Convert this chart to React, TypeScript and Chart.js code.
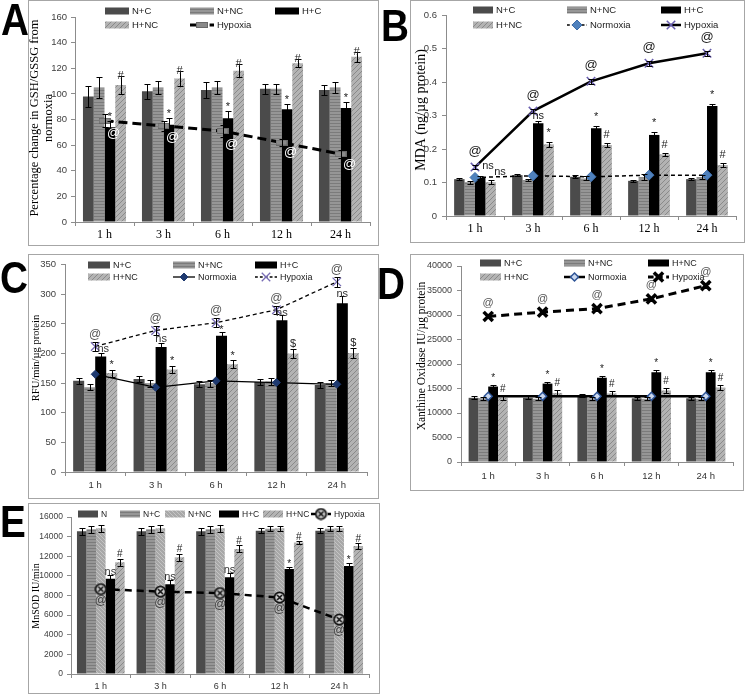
import React, { useEffect, useRef } from "react";
import { Chart, registerables } from "chart.js";

Chart.register(...registerables);

// ---------------- shared ----------------
const HOURS = ["1 h", "3 h", "6 h", "12 h", "24 h"];

// ---------------- A : GSH/GSSG (% of normoxia) ----------------
const A_N_C = [98, 102, 103, 104, 103];
const A_N_C_ERR = [8, 6, 6, 4, 4];
const A_N_NC = [105, 105, 105, 104, 105];
const A_N_NC_ERR = [8, 5, 5, 4, 4];
const A_H_C = [74, 76, 81, 88, 89];
const A_H_C_ERR = [5, 5, 6, 4, 5];
const A_H_NC = [107, 112, 118, 124, 129];
const A_H_NC_ERR = [7, 6, 5, 3, 4];
const A_HYPOXIA = [79, 75, 71, 62, 53];
const A_HYPOXIA_ERR = [5, 4, 5, 3, 3];
const A_Y_MAX = 160;
const A_Y_STEP = 20;

// ---------------- B : MDA ----------------
const B_N_C = [0.11, 0.122, 0.117, 0.105, 0.11];
const B_N_C_ERR = [0.004, 0.003, 0.005, 0.003, 0.004];
const B_N_NC = [0.101, 0.107, 0.112, 0.116, 0.116];
const B_N_NC_ERR = [0.004, 0.004, 0.006, 0.01, 0.005];
const B_H_C = [0.115, 0.277, 0.262, 0.242, 0.328];
const B_H_C_ERR = [0.005, 0.007, 0.007, 0.008, 0.007];
const B_H_NC = [0.101, 0.214, 0.212, 0.184, 0.152];
const B_H_NC_ERR = [0.005, 0.007, 0.006, 0.004, 0.006];
const B_NORMOXIA = [0.115, 0.12, 0.117, 0.122, 0.122];
const B_HYPOXIA = [0.146, 0.313, 0.402, 0.456, 0.486];
const B_HYPOXIA_ERR = [0.005, 0.006, 0.007, 0.007, 0.007];
const B_Y_MAX = 0.6;
const B_Y_STEP = 0.1;

// ---------------- C : RFU ----------------
const C_N_C = [154, 157, 148, 152, 147];
const C_N_C_ERR = [5, 5, 5, 5, 5];
const C_N_NC = [143, 150, 150, 153, 150];
const C_N_NC_ERR = [5, 6, 6, 6, 5];
const C_H_C = [195, 211, 230, 256, 285];
const C_H_C_ERR = [6, 7, 7, 9, 12];
const C_H_NC = [167, 173, 182, 200, 201];
const C_H_NC_ERR = [6, 6, 7, 8, 9];
const C_NORMOXIA = [165, 143, 154, 151, 148];
const C_HYPOXIA = [212, 239, 252, 274, 321];
const C_HYPOXIA_ERR = [8, 7, 8, 7, 9];
const C_Y_MAX = 350;
const C_Y_STEP = 50;

// ---------------- D : Xanthine oxidase ----------------
const D_N_C = [13100, 13100, 13500, 13000, 13000];
const D_N_C_ERR = [300, 300, 300, 300, 300];
const D_N_NC = [13000, 12900, 13000, 12900, 12900];
const D_N_NC_ERR = [300, 300, 300, 300, 300];
const D_H_C = [15400, 16000, 17200, 18300, 18300];
const D_H_C_ERR = [400, 400, 400, 500, 500];
const D_H_NC = [13100, 14100, 14000, 14600, 15200];
const D_H_NC_ERR = [400, 500, 400, 600, 600];
const D_NORMOXIA = [13400, 13400, 13400, 13400, 13400];
const D_HYPOXIA = [29700, 30600, 31300, 33300, 36000];
const D_HYPOXIA_ERR = [400, 400, 400, 400, 400];
const D_Y_MAX = 40000;
const D_Y_STEP = 5000;

// ---------------- E : MnSOD ----------------
const E_N = [14550, 14550, 14550, 14600, 14600];
const E_N_ERR = [350, 350, 350, 250, 250];
const E_N_C = [14750, 14750, 14750, 14800, 14800];
const E_N_C_ERR = [350, 350, 350, 250, 250];
const E_N_NC = [14850, 14850, 14850, 14850, 14850];
const E_N_NC_ERR = [350, 350, 350, 250, 250];
const E_H_C = [9700, 9150, 9850, 10700, 11000];
const E_H_C_ERR = [350, 400, 400, 250, 300];
const E_H_NC = [11400, 11900, 12750, 13400, 13050];
const E_H_NC_ERR = [350, 350, 350, 150, 300];
const E_HYPOXIA = [8650, 8400, 8250, 7800, 5550];
const E_Y_MAX = 16000;
const E_Y_STEP = 2000;

// ---------------- styling helpers ----------------
const SANS = '"Liberation Sans", Arial, sans-serif';
const SERIF = '"Liberation Serif", "Times New Roman", serif';
const AXIS = "#8c8c8c";

type FillKey = "dark" | "stripe" | "black" | "hatch" | "light";
type MarkerKey = "rectRot" | "crossRot" | "grayBar" | "circleX";

interface LineLook {
  color: string;
  width: number;
  dash: number[];
  marker: MarkerKey;
  radius: number;
  mFill: string;
  mStroke: string;
  mWidth: number;
}
interface Series {
  label: string;
  data: number[];
  err?: number[];
  fill?: FillKey;
  look?: LineLook;
}
interface Note {
  t: string;
  s: number;
  i: number[];
  at: "top" | "bottom" | "mid";
  dx?: number;
  gap?: number;
  size?: number;
  color?: string;
}
interface LegendPos {
  s: number;
  x: number;
  y: number;
}
interface PanelCfg {
  letter: string;
  letterPos: [number, number];
  box: [number, number, number, number];
  area: [number, number, number, number];
  yMax: number;
  yStep: number;
  yFmt: (v: number) => string;
  yTickSize: number;
  yPad: number;
  catPct: number;
  xFamily: string;
  xSize: number;
  xColor: string;
  xPad: number;
  title: { lines: string[]; xs: number[]; y: number; size: number };
  series: Series[];
  notes: Note[];
  legend: LegendPos[];
  swW: number;
  legendSize: number;
}

const intFmt = (v: number) => String(Math.round(v));
const oneDec = (v: number) => (v === 0 ? "0" : v.toFixed(1));
const ALL = [0, 1, 2, 3, 4];

function makeFill(ctx: CanvasRenderingContext2D, key: FillKey): string | CanvasPattern {
  if (key === "dark") return "#4b4b4b";
  if (key === "black") return "#000000";
  const t = document.createElement("canvas");
  if (key === "stripe") {
    t.width = 4;
    t.height = 3;
    const g = t.getContext("2d")!;
    g.fillStyle = "#969696";
    g.fillRect(0, 0, 4, 3);
    g.fillStyle = "#7b7b7b";
    g.fillRect(0, 0, 4, 1);
  } else if (key === "hatch") {
    t.width = 5;
    t.height = 5;
    const g = t.getContext("2d")!;
    g.fillStyle = "#b3b3b3";
    g.fillRect(0, 0, 5, 5);
    g.fillStyle = "#8a8a8a";
    for (let i = 0; i < 5; i++) g.fillRect(i, 4 - i, 1, 1);
  } else {
    t.width = 4;
    t.height = 4;
    const g = t.getContext("2d")!;
    g.fillStyle = "#a8a8a8";
    g.fillRect(0, 0, 4, 4);
    g.fillStyle = "#c4c4c4";
    for (let i = 0; i < 4; i++) g.fillRect(i, i, 1, 1);
  }
  return ctx.createPattern(t, "repeat")!;
}

function makeMarkerImage(key: MarkerKey): HTMLCanvasElement | null {
  if (key === "grayBar") {
    const c = document.createElement("canvas");
    c.width = 12;
    c.height = 6;
    const g = c.getContext("2d")!;
    g.fillStyle = "#8a8a8a";
    g.fillRect(0, 0, 12, 6);
    g.strokeStyle = "#6a6a6a";
    g.lineWidth = 1;
    g.strokeRect(0.5, 0.5, 11, 5);
    return c;
  }
  if (key === "circleX") {
    const c = document.createElement("canvas");
    c.width = 13;
    c.height = 13;
    const g = c.getContext("2d")!;
    g.beginPath();
    g.arc(6.5, 6.5, 5.2, 0, Math.PI * 2);
    g.fillStyle = "#cfcfcf";
    g.fill();
    g.lineWidth = 1.8;
    g.strokeStyle = "#111";
    g.stroke();
    g.beginPath();
    g.moveTo(4, 4);
    g.lineTo(9, 9);
    g.moveTo(9, 4);
    g.lineTo(4, 9);
    g.lineWidth = 1.6;
    g.stroke();
    return c;
  }
  return null;
}

function drawMarker(ctx: CanvasRenderingContext2D, look: LineLook, img: HTMLCanvasElement | null, x: number, y: number) {
  ctx.save();
  ctx.setLineDash([]);
  if (img) {
    ctx.drawImage(img, x - img.width / 2, y - img.height / 2);
  } else if (look.marker === "rectRot") {
    const r = look.radius;
    ctx.beginPath();
    ctx.moveTo(x, y - r);
    ctx.lineTo(x + r, y);
    ctx.lineTo(x, y + r);
    ctx.lineTo(x - r, y);
    ctx.closePath();
    ctx.fillStyle = look.mFill;
    ctx.fill();
    ctx.lineWidth = look.mWidth;
    ctx.strokeStyle = look.mStroke;
    ctx.stroke();
  } else if (look.marker === "crossRot") {
    const o = look.radius * Math.SQRT1_2;
    ctx.beginPath();
    ctx.moveTo(x - o, y - o);
    ctx.lineTo(x + o, y + o);
    ctx.moveTo(x + o, y - o);
    ctx.lineTo(x - o, y + o);
    ctx.lineWidth = look.mWidth;
    ctx.strokeStyle = look.mStroke;
    ctx.stroke();
  }
  ctx.restore();
}

// ---------------- panel definitions ----------------
const LOOK_A_HYP: LineLook = { color: "#000", width: 3, dash: [9, 5], marker: "grayBar", radius: 6, mFill: "#8a8a8a", mStroke: "#6a6a6a", mWidth: 1 };
const LOOK_B_NOR: LineLook = { color: "#000", width: 1.5, dash: [4, 3], marker: "rectRot", radius: 5, mFill: "#4f81bd", mStroke: "#3d6ca8", mWidth: 1 };
const LOOK_B_HYP: LineLook = { color: "#000", width: 2.5, dash: [], marker: "crossRot", radius: 6, mFill: "#6a5fb0", mStroke: "#6a5fb0", mWidth: 1.5 };
const LOOK_C_NOR: LineLook = { color: "#000", width: 1.3, dash: [], marker: "rectRot", radius: 4, mFill: "#1f3a70", mStroke: "#1f3a70", mWidth: 1 };
const LOOK_C_HYP: LineLook = { color: "#000", width: 1.3, dash: [4, 3], marker: "crossRot", radius: 6, mFill: "#776cb5", mStroke: "#776cb5", mWidth: 1.3 };
const LOOK_D_NOR: LineLook = { color: "#000", width: 2.5, dash: [], marker: "rectRot", radius: 4, mFill: "#c9d7ee", mStroke: "#2f5597", mWidth: 1.5 };
const LOOK_D_HYP: LineLook = { color: "#000", width: 3, dash: [8, 5], marker: "crossRot", radius: 6.5, mFill: "#000", mStroke: "#000", mWidth: 3.5 };
const LOOK_E_HYP: LineLook = { color: "#000", width: 2.5, dash: [7, 5], marker: "circleX", radius: 6, mFill: "#cfcfcf", mStroke: "#111", mWidth: 1.8 };

function buildPanels(): PanelCfg[] {
  const A: PanelCfg = {
    letter: "A",
    letterPos: [1, 4],
    box: [28, 0, 351, 246],
    area: [75, 17, 370, 222],
    yMax: A_Y_MAX,
    yStep: A_Y_STEP,
    yFmt: intFmt,
    yTickSize: 9.5,
    yPad: 4,
    catPct: 0.73,
    xFamily: SERIF,
    xSize: 12,
    xColor: "#000",
    xPad: 2,
    title: { lines: ["Percentage change in GSH/GSSG from", "normoxia"], xs: [35, 49], y: 118, size: 12.5 },
    series: [
      { label: "N+C", data: A_N_C, err: A_N_C_ERR, fill: "dark" },
      { label: "N+NC", data: A_N_NC, err: A_N_NC_ERR, fill: "stripe" },
      { label: "H+C", data: A_H_C, err: A_H_C_ERR, fill: "black" },
      { label: "H+NC", data: A_H_NC, err: A_H_NC_ERR, fill: "hatch" },
      { label: "Hypoxia", data: A_HYPOXIA, err: A_HYPOXIA_ERR, look: LOOK_A_HYP },
    ],
    notes: [
      { t: "*", s: 2, i: ALL, at: "top", gap: 1, size: 11 },
      { t: "#", s: 3, i: ALL, at: "top", gap: -3, size: 11 },
      { t: "@", s: 4, i: ALL, at: "bottom", dx: 9, gap: 0, size: 13, color: "#ffffff" },
    ],
    legend: [
      { s: 0, x: 105, y: 11 },
      { s: 1, x: 190, y: 11 },
      { s: 2, x: 275, y: 11 },
      { s: 3, x: 105, y: 25 },
      { s: 4, x: 190, y: 25 },
    ],
    swW: 24,
    legendSize: 9.5,
  };

  const B: PanelCfg = {
    letter: "B",
    letterPos: [381, 10],
    box: [410, 0, 335, 243],
    area: [446, 15, 736, 216],
    yMax: B_Y_MAX,
    yStep: B_Y_STEP,
    yFmt: oneDec,
    yTickSize: 9.5,
    yPad: 5,
    catPct: 0.72,
    xFamily: SERIF,
    xSize: 12,
    xColor: "#000",
    xPad: 2,
    title: { lines: ["MDA (ng/µg protein)"], xs: [421], y: 110, size: 14 },
    series: [
      { label: "N+C", data: B_N_C, err: B_N_C_ERR, fill: "dark" },
      { label: "N+NC", data: B_N_NC, err: B_N_NC_ERR, fill: "stripe" },
      { label: "H+C", data: B_H_C, err: B_H_C_ERR, fill: "black" },
      { label: "H+NC", data: B_H_NC, err: B_H_NC_ERR, fill: "hatch" },
      { label: "Normoxia", data: B_NORMOXIA, look: LOOK_B_NOR },
      { label: "Hypoxia", data: B_HYPOXIA, err: B_HYPOXIA_ERR, look: LOOK_B_HYP },
    ],
    notes: [
      { t: "@", s: 5, i: ALL, at: "top", gap: 10, size: 13, color: "#222" },
      { t: "ns", s: 5, i: [0], at: "mid", dx: 13, gap: -1, size: 11 },
      { t: "ns", s: 5, i: [0], at: "mid", dx: 25, gap: 5, size: 11 },
      { t: "ns", s: 2, i: [1], at: "top", gap: 2, size: 11 },
      { t: "*", s: 2, i: [2, 3, 4], at: "top", gap: 6, size: 11 },
      { t: "*", s: 3, i: [1], at: "top", gap: 6, size: 11 },
      { t: "#", s: 3, i: [2, 3, 4], at: "top", gap: 5, size: 11 },
    ],
    legend: [
      { s: 0, x: 473, y: 10 },
      { s: 1, x: 567, y: 10 },
      { s: 2, x: 661, y: 10 },
      { s: 3, x: 473, y: 25 },
      { s: 4, x: 567, y: 25 },
      { s: 5, x: 661, y: 25 },
    ],
    swW: 20,
    legendSize: 9.5,
  };

  const C: PanelCfg = {
    letter: "C",
    letterPos: [0, 262],
    box: [28, 254, 351, 245],
    area: [65, 261, 367, 472],
    yMax: C_Y_MAX,
    yStep: C_Y_STEP,
    yFmt: intFmt,
    yTickSize: 9.5,
    yPad: 5,
    catPct: 0.73,
    xFamily: SANS,
    xSize: 9.5,
    xColor: "#333",
    xPad: 4,
    title: { lines: ["RFU/min/µg protein"], xs: [36], y: 358, size: 10.5 },
    series: [
      { label: "N+C", data: C_N_C, err: C_N_C_ERR, fill: "dark" },
      { label: "N+NC", data: C_N_NC, err: C_N_NC_ERR, fill: "stripe" },
      { label: "H+C", data: C_H_C, err: C_H_C_ERR, fill: "black" },
      { label: "H+NC", data: C_H_NC, err: C_H_NC_ERR, fill: "hatch" },
      { label: "Normoxia", data: C_NORMOXIA, look: LOOK_C_NOR },
      { label: "Hypoxia", data: C_HYPOXIA, err: C_HYPOXIA_ERR, look: LOOK_C_HYP },
    ],
    notes: [
      { t: "@", s: 5, i: ALL, at: "top", gap: 4, size: 12, color: "#555" },
      { t: "ns", s: 5, i: [0], at: "mid", dx: 8, gap: 3, size: 11, color: "#333" },
      { t: "ns", s: 2, i: [1], at: "top", gap: 1, size: 11, color: "#333" },
      { t: "ns", s: 2, i: [3, 4], at: "top", gap: -1, size: 11, color: "#333" },
      { t: "*", s: 2, i: [2], at: "top", gap: -1, size: 11 },
      { t: "*", s: 3, i: [0, 1, 2], at: "top", gap: 1.5, size: 11 },
      { t: "$", s: 3, i: [3, 4], at: "top", gap: 1.5, size: 11 },
    ],
    legend: [
      { s: 0, x: 88, y: 265 },
      { s: 1, x: 173, y: 265 },
      { s: 2, x: 255, y: 265 },
      { s: 3, x: 88, y: 277 },
      { s: 4, x: 173, y: 277 },
      { s: 5, x: 255, y: 277 },
    ],
    swW: 22,
    legendSize: 9,
  };

  const D: PanelCfg = {
    letter: "D",
    letterPos: [377, 268],
    box: [410, 254, 334, 237],
    area: [461, 266, 733, 462],
    yMax: D_Y_MAX,
    yStep: D_Y_STEP,
    yFmt: intFmt,
    yTickSize: 9,
    yPad: 5,
    catPct: 0.72,
    xFamily: SANS,
    xSize: 9.5,
    xColor: "#333",
    xPad: 5,
    title: { lines: ["Xanthine Oxidase IU/µg protein"], xs: [422], y: 356, size: 11.5 },
    series: [
      { label: "N+C", data: D_N_C, err: D_N_C_ERR, fill: "dark" },
      { label: "N+NC", data: D_N_NC, err: D_N_NC_ERR, fill: "stripe" },
      { label: "H+NC", data: D_H_C, err: D_H_C_ERR, fill: "black" },
      { label: "H+NC", data: D_H_NC, err: D_H_NC_ERR, fill: "hatch" },
      { label: "Normoxia", data: D_NORMOXIA, look: LOOK_D_NOR },
      { label: "Hypoxia", data: D_HYPOXIA, err: D_HYPOXIA_ERR, look: LOOK_D_HYP },
    ],
    notes: [
      { t: "@", s: 5, i: ALL, at: "top", gap: 8.5, size: 11, color: "#555" },
      { t: "*", s: 2, i: ALL, at: "top", gap: 4, size: 10 },
      { t: "#", s: 3, i: ALL, at: "top", gap: 4, size: 10 },
    ],
    legend: [
      { s: 0, x: 480, y: 263 },
      { s: 1, x: 564, y: 263 },
      { s: 2, x: 648, y: 263 },
      { s: 3, x: 480, y: 277 },
      { s: 4, x: 564, y: 277 },
      { s: 5, x: 648, y: 277 },
    ],
    swW: 21,
    legendSize: 9,
  };

  const E: PanelCfg = {
    letter: "E",
    letterPos: [0, 506],
    box: [28, 503, 352, 191],
    area: [71, 517, 369, 674],
    yMax: E_Y_MAX,
    yStep: E_Y_STEP,
    yFmt: intFmt,
    yTickSize: 8.5,
    yPad: 4,
    catPct: 0.8,
    xFamily: SANS,
    xSize: 9,
    xColor: "#333",
    xPad: 3,
    title: { lines: ["MnSOD IU/min"], xs: [36], y: 596, size: 10 },
    series: [
      { label: "N", data: E_N, err: E_N_ERR, fill: "dark" },
      { label: "N+C", data: E_N_C, err: E_N_C_ERR, fill: "stripe" },
      { label: "N+NC", data: E_N_NC, err: E_N_NC_ERR, fill: "light" },
      { label: "H+C", data: E_H_C, err: E_H_C_ERR, fill: "black" },
      { label: "H+NC", data: E_H_NC, err: E_H_NC_ERR, fill: "hatch" },
      { label: "Hypoxia", data: E_HYPOXIA, look: LOOK_E_HYP },
    ],
    notes: [
      { t: "ns", s: 3, i: [0, 1, 2], at: "top", gap: 0, size: 11, color: "#333" },
      { t: "*", s: 3, i: [3, 4], at: "top", gap: 0, size: 10 },
      { t: "#", s: 4, i: ALL, at: "top", gap: 1.5, size: 10 },
      { t: "@", s: 5, i: ALL, at: "bottom", gap: 5.5, size: 12, color: "#444" },
    ],
    legend: [
      { s: 0, x: 78, y: 514 },
      { s: 1, x: 120, y: 514 },
      { s: 2, x: 165, y: 514 },
      { s: 3, x: 219, y: 514 },
      { s: 4, x: 263, y: 514 },
      { s: 5, x: 311, y: 514 },
    ],
    swW: 20,
    legendSize: 8.5,
  };
  return [A, B, C, D, E];
}

// ---------------- chart panel ----------------
function Panel({ cfg }: { cfg: PanelCfg }) {
  const ref = useRef<HTMLCanvasElement>(null);
  const [bx, by, bw, bh] = cfg.box;
  const [al, at, ar, ab] = cfg.area;

  useEffect(() => {
    const canvas = ref.current!;
    const ctx0 = canvas.getContext("2d")!;
    const fills = cfg.series.map((s) => (s.fill ? makeFill(ctx0, s.fill) : null));
    const imgs = cfg.series.map((s) => (s.look ? makeMarkerImage(s.look.marker) : null));

    const datasets: any[] = cfg.series.map((s, k) => {
      if (s.fill) {
        return {
          type: "bar",
          label: s.label,
          data: s.data,
          backgroundColor: fills[k],
          borderWidth: 0,
          categoryPercentage: cfg.catPct,
          barPercentage: 1,
          order: 2,
        };
      }
      const L = s.look!;
      return {
        type: "line",
        label: s.label,
        data: s.data,
        order: 1,
        borderColor: L.color,
        borderWidth: L.width,
        borderDash: L.dash,
        fill: false,
        tension: 0,
        pointStyle: imgs[k] ?? L.marker,
        pointRadius: L.radius,
        pointBackgroundColor: L.mFill,
        pointBorderColor: L.mStroke,
        pointBorderWidth: L.mWidth,
      };
    });

    const overlay = {
      id: "overlay",
      afterDatasetsDraw(chart: any) {
        const ctx: CanvasRenderingContext2D = chart.ctx;
        const ys = chart.scales.y;
        ctx.save();
        // error bars
        cfg.series.forEach((s, d) => {
          if (!s.err) return;
          const meta = chart.getDatasetMeta(d);
          meta.data.forEach((el: any, i: number) => {
            const e = s.err![i];
            if (!e) return;
            const x = Math.round(el.x) + 0.5;
            const y1 = Math.round(ys.getPixelForValue(s.data[i] + e)) + 0.5;
            const y2 = Math.round(ys.getPixelForValue(s.data[i] - e)) + 0.5;
            ctx.strokeStyle = "#000";
            ctx.lineWidth = 1;
            ctx.setLineDash([]);
            ctx.beginPath();
            ctx.moveTo(x, y1);
            ctx.lineTo(x, y2);
            ctx.moveTo(x - 3, y1);
            ctx.lineTo(x + 3, y1);
            ctx.moveTo(x - 3, y2);
            ctx.lineTo(x + 3, y2);
            ctx.stroke();
          });
        });
        // significance notes
        cfg.notes.forEach((n) => {
          const s = cfg.series[n.s];
          const meta = chart.getDatasetMeta(n.s);
          n.i.forEach((i) => {
            const el: any = meta.data[i];
            const v = s.data[i];
            const e = s.err ? s.err[i] : 0;
            ctx.font = `${n.size ?? 11}px ${SANS}`;
            ctx.fillStyle = n.color ?? "#222";
            ctx.textAlign = "center";
            let y: number;
            if (n.at === "top") {
              ctx.textBaseline = "alphabetic";
              y = ys.getPixelForValue(v + e) - (n.gap ?? 2);
            } else if (n.at === "bottom") {
              ctx.textBaseline = "top";
              y = ys.getPixelForValue(v - e) + (n.gap ?? 1);
            } else {
              ctx.textBaseline = "middle";
              y = ys.getPixelForValue(v) + (n.gap ?? 0);
            }
            ctx.fillText(n.t, el.x + (n.dx ?? 0), y);
          });
        });
        // legend
        cfg.legend.forEach((Lp) => {
          const s = cfg.series[Lp.s];
          const x = Lp.x - bx;
          const y = Lp.y - by;
          if (s.fill) {
            ctx.fillStyle = fills[Lp.s] as any;
            ctx.fillRect(x, y - 3.5, cfg.swW, 7);
          } else {
            const L = s.look!;
            ctx.save();
            ctx.strokeStyle = L.color;
            ctx.lineWidth = L.width;
            ctx.setLineDash(L.dash.length ? L.dash.map((d) => d * 0.7) : []);
            ctx.beginPath();
            ctx.moveTo(x, y);
            ctx.lineTo(x + cfg.swW, y);
            ctx.stroke();
            ctx.restore();
            drawMarker(ctx, L, imgs[Lp.s], x + cfg.swW / 2, y);
          }
          ctx.font = `${cfg.legendSize}px ${SANS}`;
          ctx.fillStyle = "#1a1a1a";
          ctx.textAlign = "left";
          ctx.textBaseline = "middle";
          ctx.fillText(s.label, x + cfg.swW + 3, y + 0.5);
        });
        // y title
        ctx.font = `${cfg.title.size}px ${SERIF}`;
        ctx.fillStyle = "#000";
        ctx.textAlign = "center";
        ctx.textBaseline = "middle";
        cfg.title.lines.forEach((t, k) => {
          ctx.save();
          ctx.translate(cfg.title.xs[k] - bx, cfg.title.y - by);
          ctx.rotate(-Math.PI / 2);
          ctx.fillText(t, 0, 0);
          ctx.restore();
        });
        ctx.restore();
      },
    };

    const yW = al - bx;
    const xH = by + bh - ab;
    const chart = new Chart(canvas, {
      type: "bar",
      data: { labels: HOURS, datasets },
      options: {
        responsive: false,
        maintainAspectRatio: false,
        animation: false,
        devicePixelRatio: 1,
        events: [],
        layout: {
          padding: { left: 0, top: at - by, right: bx + bw - ar, bottom: 0 },
        },
        plugins: { legend: { display: false }, tooltip: { enabled: false } },
        scales: {
          x: {
            type: "category",
            offset: true,
            afterFit: (s: any) => {
              s.height = xH;
            },
            ticks: {
              color: cfg.xColor,
              font: { family: cfg.xFamily, size: cfg.xSize },
              padding: cfg.xPad,
              autoSkip: false,
              maxRotation: 0,
            },
            grid: { offset: true, drawOnChartArea: false, drawTicks: true, tickLength: 4, color: AXIS },
            border: { display: true, color: AXIS, width: 1 },
          },
          y: {
            type: "linear",
            min: 0,
            max: cfg.yMax,
            afterFit: (s: any) => {
              s.width = yW;
            },
            ticks: {
              stepSize: cfg.yStep,
              color: "#404040",
              font: { family: SANS, size: cfg.yTickSize },
              padding: cfg.yPad,
              callback: (v: any) => cfg.yFmt(Number(v)),
            },
            grid: { drawOnChartArea: false, drawTicks: true, tickLength: 4, color: AXIS },
            border: { display: true, color: AXIS, width: 1 },
          },
        },
      } as any,
      plugins: [overlay],
    });
    return () => chart.destroy();
  }, []);

  return (
    <>
      <div style={{ position: "absolute", left: bx, top: by, width: bw, height: bh }}>
        <canvas ref={ref} width={bw} height={bh} style={{ position: "absolute", left: 0, top: 0 }} />
        <div
          style={{
            position: "absolute",
            left: 0,
            top: 0,
            width: bw,
            height: bh,
            boxSizing: "border-box",
            border: "1px solid #a6a6a6",
            pointerEvents: "none",
          }}
        />
      </div>
      <div
        style={{
          position: "absolute",
          left: cfg.letterPos[0],
          top: cfg.letterPos[1] - 6,
          fontFamily: SANS,
          fontWeight: 700,
          fontSize: 44,
          lineHeight: "44px",
          color: "#000",
          transform: "scaleX(0.88)",
          transformOrigin: "left top",
        }}
      >
        {cfg.letter}
      </div>
    </>
  );
}

export default function App() {
  const panels = buildPanels();
  return (
    <div
      style={{
        position: "absolute",
        left: 0,
        top: 0,
        width: 746,
        height: 696,
        background: "#fff",
        overflow: "hidden",
      }}
    >
      {panels.map((p) => (
        <Panel key={p.letter} cfg={p} />
      ))}
    </div>
  );
}
